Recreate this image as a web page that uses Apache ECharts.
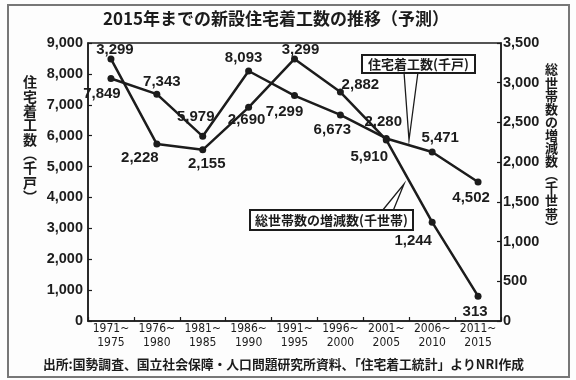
<!DOCTYPE html>
<html>
<head>
<meta charset="utf-8">
<script src="https://cdn.jsdelivr.net/npm/echarts@6/dist/echarts.min.js"></script>
<style>
html,body{margin:0;padding:0;background:#fff;}
#c{width:576px;height:380px;}
</style>
</head>
<body>
<div id="c"></div>
<script>
// ---- data ----
const categories = ['1971~\n1975','1976~\n1980','1981~\n1985','1986~\n1990','1991~\n1995','1996~\n2000','2001~\n2005','2006~\n2010','2011~\n2015'];
const housingStarts = [7849, 7343, 5979, 8093, 7299, 6673, 5910, 5471, 4502];      // 住宅着工数 (千戸), left axis
const householdChange = [3299, 2228, 2155, 2690, 3299, 2882, 2280, 1244, 313];     // 総世帯数の増減数 (千世帯), right axis
const leftTicks = {min: 0, max: 9000, interval: 1000};
const rightTicks = {min: 0, max: 3500, interval: 500};

const titleText = '2015年までの新設住宅着工数の推移（予測）';
const leftName = '住宅着工数︵千戸︶';
const rightName = '総世帯数の増減数︵千世帯︶';
const housingLegend = '住宅着工数(千戸)';
const householdLegend = '総世帯数の増減数(千世帯)';
const sourceText = '出所:国勢調査、国立社会保障・人口問題研究所資料、「住宅着工統計」よりNRI作成';

// ---- layout (label offsets) ----
const housingOffsets = [[-9,15],[5,-12],[-7,-19],[-5,-13],[-10,16],[-8,15],[-17,18],[8,-14],[-7,16]];
const householdOffsets = [[4,-9],[-17,14],[4,14],[-2,13],[6,-9],[20,-7],[-3,-18],[-19,19],[-3,16]];

const INK = '#1c1c1c';
const NUM_FONT = "'Liberation Sans', Arial, sans-serif";
const JP_FONT = "'Noto Sans CJK JP', sans-serif";

function withLabels(values, offsets) {
  return values.map((v, i) => ({
    value: v,
    label: {offset: offsets[i]}
  }));
}

const fmt = v => v.toLocaleString('en-US');

const chart = echarts.init(document.getElementById('c'), null, {renderer: 'canvas'});

const seriesLabel = {
  show: true,
  position: 'inside',
  align: 'center',
  verticalAlign: 'middle',
  color: INK,
  fontFamily: NUM_FONT,
  fontWeight: 'bold',
  fontSize: 15,
  formatter: p => fmt(p.value)
};

chart.setOption({
  backgroundColor: '#fdfdfd',
  animation: false,
  title: {
    text: titleText,
    left: 98,
    top: 5,
    textStyle: {fontFamily: JP_FONT, fontWeight: 'bold', fontSize: 17, color: INK}
  },
  grid: {left: 88, right: 75, top: 43, bottom: 59, show: true, borderColor: INK, borderWidth: 1.5, backgroundColor: 'transparent'},
  xAxis: {
    type: 'category',
    data: categories,
    boundaryGap: true,
    axisLine: {lineStyle: {color: INK, width: 1.5}},
    axisTick: {show: true, inside: true, length: 4, lineStyle: {color: INK, width: 1.2}},
    axisLabel: {
      color: INK, fontFamily: "'Liberation Sans Narrow','DejaVu Sans Condensed', sans-serif",
      fontSize: 12, lineHeight: 14, margin: 1, interval: 0
    }
  },
  yAxis: [
    {
      type: 'value', position: 'left',
      min: leftTicks.min, max: leftTicks.max, interval: leftTicks.interval,
      splitLine: {show: false},
      axisLine: {show: true, lineStyle: {color: INK, width: 1.5}},
      axisTick: {show: true, inside: true, length: 4, lineStyle: {color: INK, width: 1.2}},
      axisLabel: {color: INK, fontFamily: NUM_FONT, fontWeight: 'bold', fontSize: 14.5, margin: 5, formatter: v => fmt(v)}
    },
    {
      type: 'value', position: 'right',
      min: rightTicks.min, max: rightTicks.max, interval: rightTicks.interval,
      splitLine: {show: false},
      axisLine: {show: true, lineStyle: {color: INK, width: 1.5}},
      axisTick: {show: true, inside: true, length: 4, lineStyle: {color: INK, width: 1.2}},
      axisLabel: {color: INK, fontFamily: NUM_FONT, fontWeight: 'bold', fontSize: 14.5, margin: 2, formatter: v => fmt(v)}
    }
  ],
  series: [
    {
      name: housingLegend,
      type: 'line',
      yAxisIndex: 0,
      data: withLabels(housingStarts, housingOffsets),
      symbol: 'circle', symbolSize: 7,
      lineStyle: {color: INK, width: 2.5},
      itemStyle: {color: INK},
      label: seriesLabel,
      z: 3
    },
    {
      name: householdLegend,
      type: 'line',
      yAxisIndex: 1,
      data: withLabels(householdChange, householdOffsets),
      symbol: 'circle', symbolSize: 7,
      lineStyle: {color: INK, width: 2.5},
      itemStyle: {color: INK},
      label: seriesLabel,
      z: 3
    }
  ],
  graphic: [
    // outer frame
    {type: 'rect', shape: {x: 8, y: 5, width: 561, height: 372}, style: {fill: 'none', stroke: '#777', lineWidth: 2}, z: 0, silent: true},
    // left axis name (vertical)
    {type: 'text', left: 23, top: 75, style: {text: leftName.split('').join('\n'), font: "bold 14px 'Noto Sans CJK JP'", lineHeight: 14.3, fill: INK, align: 'center'}, z: 10},
    // right axis name (vertical)
    {type: 'text', left: 545, top: 63, style: {text: rightName.split('').join('\n'), font: "bold 13px 'Noto Sans CJK JP'", lineHeight: 13.1, fill: INK, align: 'center'}, z: 10},
    // callout: housing
    {type: 'polyline', shape: {points: [[404, 72], [409, 140], [418, 72]]}, style: {fill: '#fff', stroke: INK, lineWidth: 1.3}, z: 20},
    {type: 'rect', shape: {x: 362, y: 55, width: 113, height: 18}, style: {fill: '#fff', stroke: INK, lineWidth: 2}, z: 21},
    {type: 'text', x: 418.5, y: 64, style: {text: housingLegend, font: "bold 13px 'Noto Sans CJK JP'", fill: INK, align: 'center', verticalAlign: 'middle'}, z: 22},
    // callout: households
    {type: 'polyline', shape: {points: [[382, 211], [404, 184], [393, 211]]}, style: {fill: '#fff', stroke: INK, lineWidth: 1.3}, z: 20},
    {type: 'rect', shape: {x: 250, y: 210, width: 163, height: 20}, style: {fill: '#fff', stroke: INK, lineWidth: 2}, z: 21},
    {type: 'text', x: 331.5, y: 220, style: {text: householdLegend, font: "bold 13px 'Noto Sans CJK JP'", fill: INK, align: 'center', verticalAlign: 'middle'}, z: 22},
    // source
    {type: 'text', x: 43, y: 364, style: {text: sourceText, font: "bold 12.8px 'Noto Sans CJK JP'", fill: INK, align: 'left', verticalAlign: 'middle'}, z: 10}
  ]
});
</script>
</body>
</html>
